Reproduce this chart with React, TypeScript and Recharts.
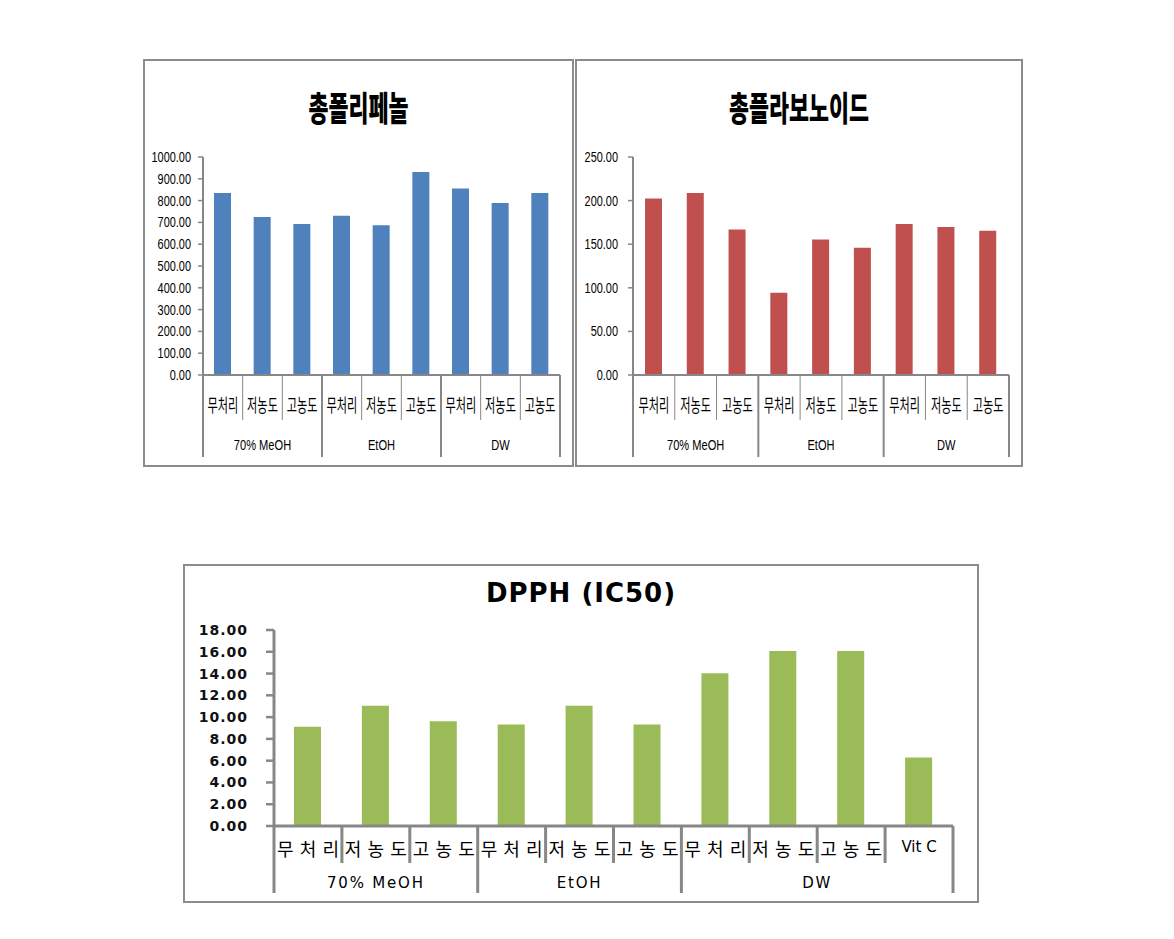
import React from 'react';
import { BarChart, Bar, XAxis, YAxis } from 'recharts';

// categories
const phenolLabels = ['무처리', '저농도', '고농도', '무처리', '저농도', '고농도', '무처리', '저농도', '고농도'];
const phenolGroups = ['70% MeOH', '70% MeOH', '70% MeOH', 'EtOH', 'EtOH', 'EtOH', 'DW', 'DW', 'DW'];
const dpphLabels = [...phenolLabels, 'Vit C'];
const dpphGroups = [...phenolGroups, 'DW'];

// series values
const phenolValues = [835, 725, 693, 731, 687, 931, 855, 789, 835];
const flavonoidValues = [202.3, 208.8, 166.8, 94.3, 155.3, 145.8, 173.3, 169.8, 165.3];
const dpphValues = [9.11, 11.04, 9.63, 9.32, 11.04, 9.33, 14.02, 16.07, 16.07, 6.29];

// y ticks
const phenolTicks = [0, 100, 200, 300, 400, 500, 600, 700, 800, 900, 1000];
const flavonoidTicks = [0, 50, 100, 150, 200, 250];
const dpphTicks = [0, 2, 4, 6, 8, 10, 12, 14, 16, 18];

type Row = { key: string; label: string; group: string; value: number };

const toRows = (labels: string[], groups: string[], values: number[]): Row[] =>
    labels.map((label, i) => ({ key: String(i), label, group: groups[i], value: values[i] }));

const phenolRows = toRows(phenolLabels, phenolGroups, phenolValues);
const flavonoidRows = toRows(phenolLabels, phenolGroups, flavonoidValues);
const dpphRows = toRows(dpphLabels, dpphGroups, dpphValues);

const AXIS = '#878787';
const KR = '"Noto Sans CJK KR", "Noto Sans", sans-serif';
const LATIN = '"Liberation Sans", Arial, sans-serif';
const VERDANA = '"DejaVu Sans", Verdana, sans-serif';

// squeezed text, the original picture is horizontally compressed
const narrow = (x: number, y: number, text: string, size: number, sx: number, family: string, anchor: 'start' | 'middle' | 'end' = 'middle') => (
    <text transform={`translate(${x},${y}) scale(${sx},1)`} textAnchor={anchor} fontSize={size} fontFamily={family} fill="#000">
        {text}
    </text>
);

type TickOpts = {
    band: number;
    shortLen: number;
    longLen: number;
    shortW: number;
    longW: number;
    sub: (x: number, y: number, row: Row) => React.ReactNode;
    group: (x: number, y: number, text: string) => React.ReactNode;
};

const makeCategoryTick = (rows: Row[], o: TickOpts) => (props: any) => {
    const { x, y, payload } = props;
    const i = Number(payload.value);
    const row = rows[i];
    if (!row) return <g />;
    const half = o.band / 2;
    const isStart = i === 0 || rows[i - 1].group !== row.group;
    const isLast = i === rows.length - 1;
    const size = rows.filter((r) => r.group === row.group).length;
    return (
        <g>
            <line
                x1={x - half}
                x2={x - half}
                y1={y}
                y2={y + (isStart ? o.longLen : o.shortLen)}
                stroke={AXIS}
                strokeWidth={isStart ? o.longW : o.shortW}
            />
            {isLast && <line x1={x + half} x2={x + half} y1={y} y2={y + o.longLen} stroke={AXIS} strokeWidth={o.longW} />}
            {o.sub(x, y, row)}
            {isStart && o.group(x + (size - 1) * half, y, row.group)}
        </g>
    );
};

const topTick = (rows: Row[], band: number) =>
    makeCategoryTick(rows, {
        band,
        shortLen: 45,
        longLen: 82,
        shortW: 1,
        longW: 2,
        sub: (x, y, row) => narrow(x, y + 37, row.label, 18, 0.62, KR),
        group: (x, y, text) => narrow(x, y + 75, text, 15, 0.74, LATIN),
    });

const topYTick = (props: any) => narrow(props.x, props.y + 5, Number(props.payload.value).toFixed(2), 14, 0.78, LATIN, 'end');

const dpphTick = makeCategoryTick(dpphRows, {
    band: (792 - 89 - 24) / 10,
    shortLen: 37,
    longLen: 67,
    shortW: 3,
    longW: 3,
    sub: (x, y, row) =>
        row.label === 'Vit C' ? (
            <text x={x} y={y + 26} textAnchor="middle" fontSize={15} fontFamily={VERDANA} fill="#000">
                {row.label}
            </text>
        ) : (
            <text x={x} y={y + 30} textAnchor="middle" fontSize={18} fontFamily={KR} fill="#000" textLength={62} lengthAdjust="spacing">
                {row.label}
            </text>
        ),
    group: (x, y, text) => (
        <text x={x} y={y + 62} textAnchor="middle" fontSize={15} fontFamily={VERDANA} letterSpacing={1.8} fill="#000">
            {text}
        </text>
    ),
});

const dpphYTick = (props: any) => (
    <text x={props.x} y={props.y + 5} textAnchor="end" fontSize={14} fontWeight="bold" letterSpacing={1} fontFamily={VERDANA} fill="#111">
        {Number(props.payload.value).toFixed(2)}
    </text>
);

const panel = (left: number, top: number, width: number, height: number): React.CSSProperties => ({
    position: 'absolute',
    left,
    top,
    width,
    height,
    boxSizing: 'border-box',
    border: '2px solid #8c8c8c',
    background: '#fff',
});

const krTitle: React.CSSProperties = {
    position: 'absolute',
    left: 0,
    width: '100%',
    top: 26,
    height: 40,
    lineHeight: '40px',
    textAlign: 'center',
    fontFamily: KR,
    fontWeight: 900,
    fontSize: 34,
    transform: 'scaleX(0.64)',
    color: '#000',
    whiteSpace: 'nowrap',
};

const App: React.FC = () => {
    const w1 = 427;
    const w2 = 444;
    const h = 404;
    const band1 = (w1 - 58 - 12) / 9;
    const band2 = (w2 - 56 - 12) / 9;
    return (
        <div style={{ position: 'absolute', left: 0, top: 0, width: 1174, height: 939, background: '#fff' }}>
            <div style={panel(143, 59, 431, 408)}>
                <div style={krTitle}>총폴리페놀</div>
                <div style={{ position: 'absolute', left: 0, top: 0 }}>
                    <BarChart width={w1} height={h} data={phenolRows} margin={{ top: 96, right: 12, left: 0, bottom: 8 }} barSize={17}>
                        <XAxis
                            dataKey="key"
                            type="category"
                            interval={0}
                            height={82}
                            tickSize={0}
                            tickMargin={0}
                            tickLine={false}
                            axisLine={{ stroke: AXIS, strokeWidth: 2 }}
                            tick={topTick(phenolRows, band1)}
                        />
                        <YAxis
                            type="number"
                            domain={[0, 1000]}
                            ticks={phenolTicks}
                            interval={0}
                            width={58}
                            tickSize={5}
                            tickMargin={7}
                            axisLine={{ stroke: AXIS, strokeWidth: 2 }}
                            tickLine={{ stroke: AXIS, strokeWidth: 1.5 }}
                            tick={topYTick}
                        />
                        <Bar dataKey="value" fill="#4f81bd" isAnimationActive={false} />
                    </BarChart>
                </div>
            </div>

            <div style={panel(575, 59, 448, 408)}>
                <div style={krTitle}>총플라보노이드</div>
                <div style={{ position: 'absolute', left: 0, top: 0 }}>
                    <BarChart width={w2} height={h} data={flavonoidRows} margin={{ top: 96, right: 12, left: 0, bottom: 8 }} barSize={17}>
                        <XAxis
                            dataKey="key"
                            type="category"
                            interval={0}
                            height={82}
                            tickSize={0}
                            tickMargin={0}
                            tickLine={false}
                            axisLine={{ stroke: AXIS, strokeWidth: 2 }}
                            tick={topTick(flavonoidRows, band2)}
                        />
                        <YAxis
                            type="number"
                            domain={[0, 250]}
                            ticks={flavonoidTicks}
                            interval={0}
                            width={56}
                            tickSize={5}
                            tickMargin={10}
                            axisLine={{ stroke: AXIS, strokeWidth: 2 }}
                            tickLine={{ stroke: AXIS, strokeWidth: 1.5 }}
                            tick={topYTick}
                        />
                        <Bar dataKey="value" fill="#c0504d" isAnimationActive={false} />
                    </BarChart>
                </div>
            </div>

            <div style={panel(183, 564, 796, 339)}>
                <div
                    style={{
                        position: 'absolute',
                        left: 0,
                        width: '100%',
                        top: 12,
                        textAlign: 'center',
                        fontFamily: VERDANA,
                        fontWeight: 'bold',
                        fontSize: 26,
                        letterSpacing: 1,
                        color: '#000',
                    }}
                >
                    DPPH (IC50)
                </div>
                <div style={{ position: 'absolute', left: 0, top: 0 }}>
                    <BarChart width={792} height={335} data={dpphRows} margin={{ top: 64, right: 24, left: 0, bottom: 8 }} barSize={27}>
                        <XAxis
                            dataKey="key"
                            type="category"
                            interval={0}
                            height={67}
                            tickSize={0}
                            tickMargin={0}
                            tickLine={false}
                            axisLine={{ stroke: AXIS, strokeWidth: 3 }}
                            tick={dpphTick}
                        />
                        <YAxis
                            type="number"
                            domain={[0, 18]}
                            ticks={dpphTicks}
                            interval={0}
                            width={89}
                            tickSize={8}
                            tickMargin={18}
                            axisLine={{ stroke: AXIS, strokeWidth: 3 }}
                            tickLine={{ stroke: AXIS, strokeWidth: 2.5 }}
                            tick={dpphYTick}
                        />
                        <Bar dataKey="value" fill="#9bbb59" isAnimationActive={false} />
                    </BarChart>
                </div>
            </div>
        </div>
    );
};

export default App;
